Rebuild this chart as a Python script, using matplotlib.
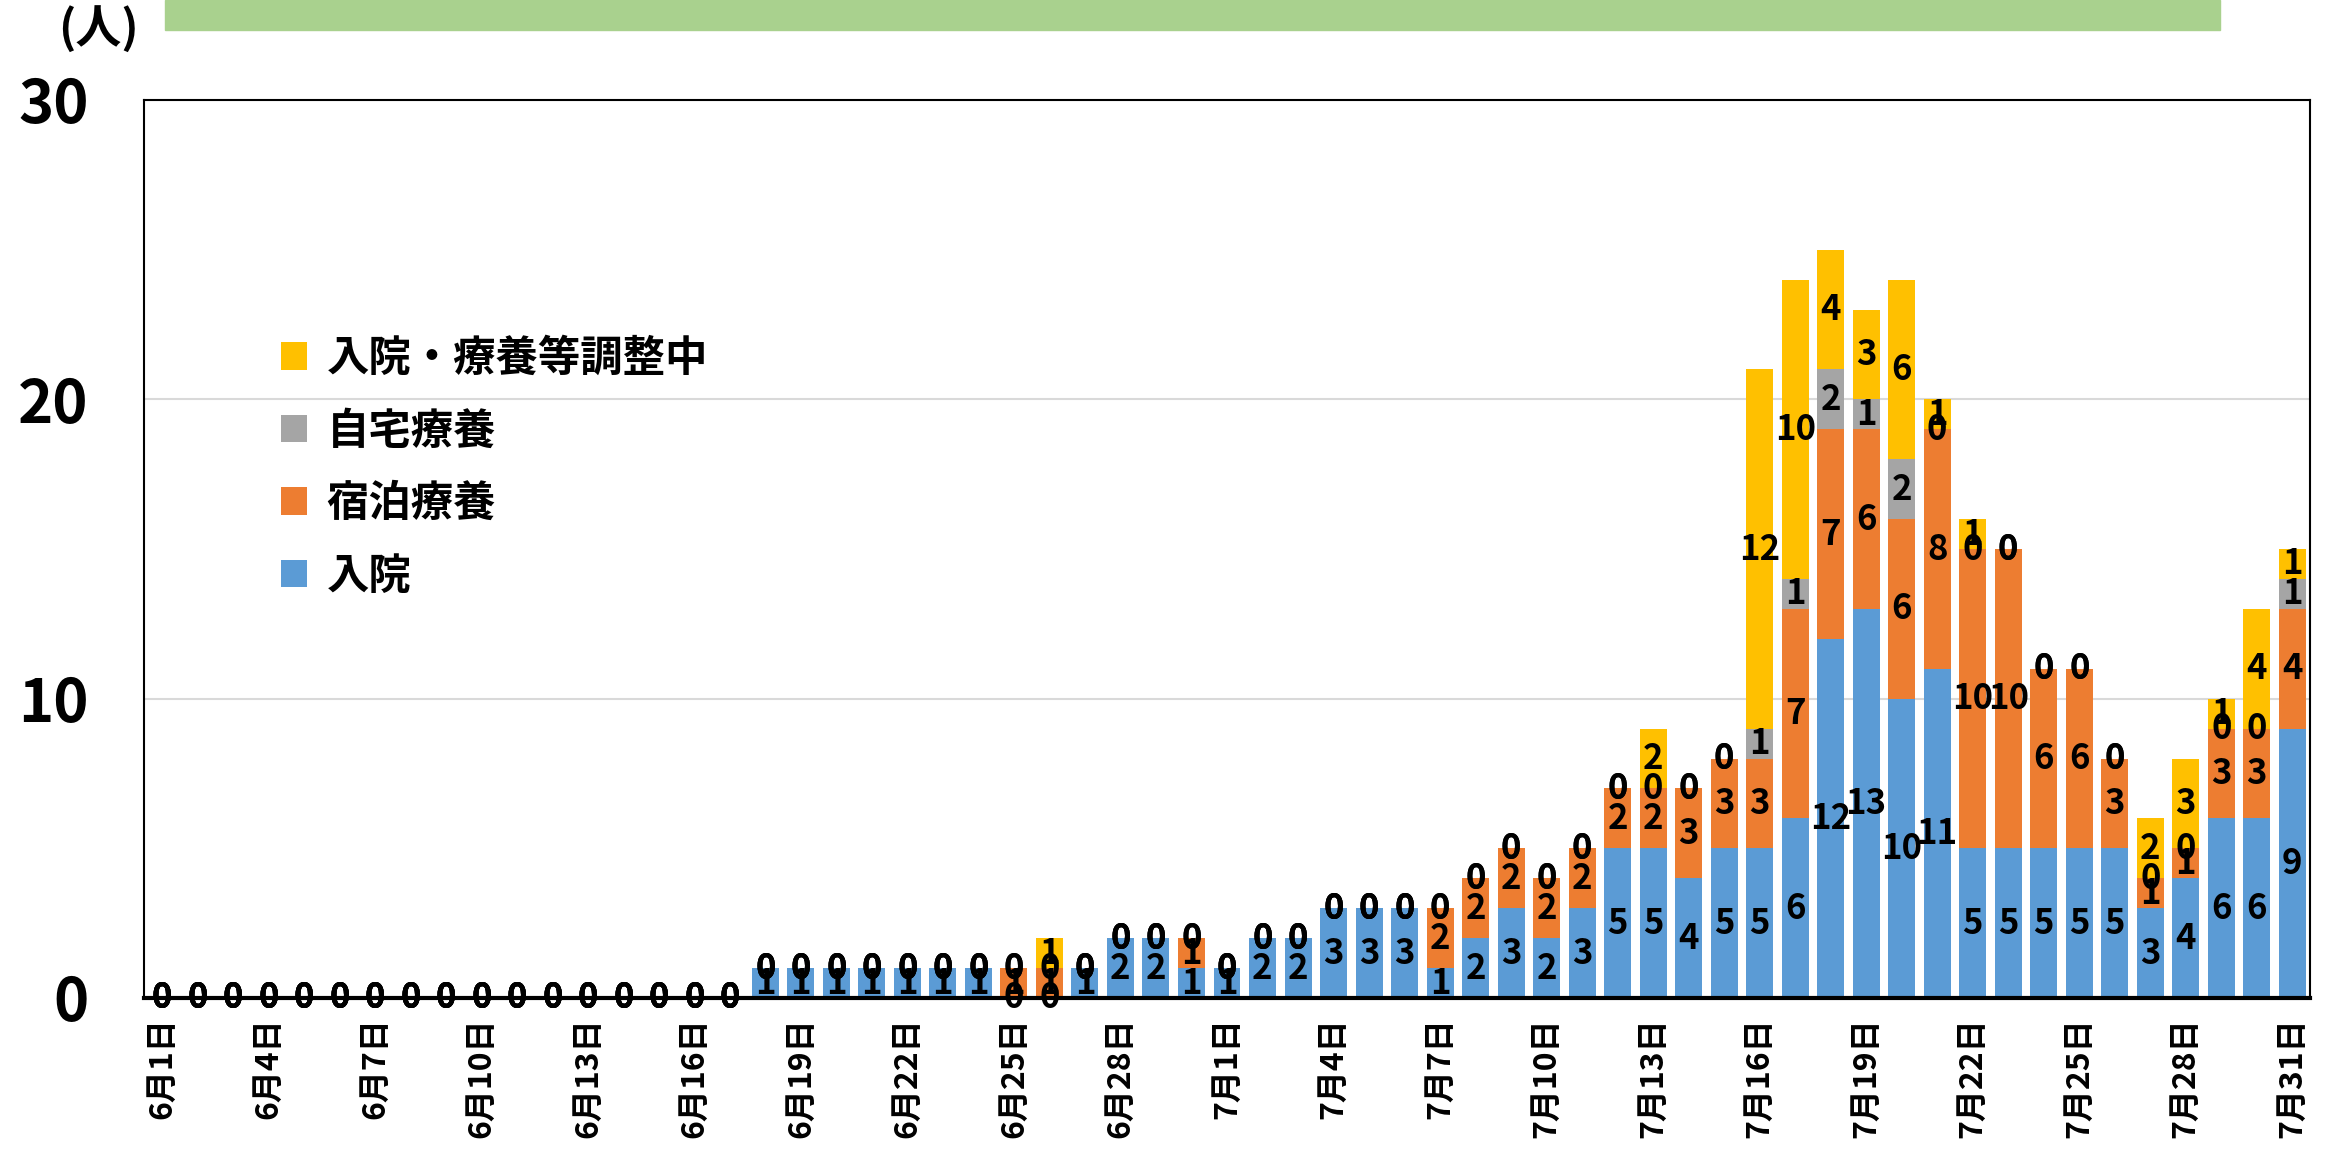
import matplotlib
matplotlib.use("Agg")
import matplotlib.pyplot as plt
from matplotlib.patches import Rectangle

plt.rcParams['font.family'] = ['Noto Sans CJK JP', 'DejaVu Sans']
plt.rcParams['font.weight'] = 'bold'

# 6月1日 .. 7月31日
dates = [f"6月{d}日" for d in range(1, 31)] + [f"7月{d}日" for d in range(1, 32)]

hospital = [0]*17 + [1, 1, 1, 1, 1, 1, 1, 0, 0, 1, 2, 2, 1,
                     1, 2, 2, 3, 3, 3, 1, 2, 3, 2, 3, 5, 5, 4, 5, 5,
                     6, 12, 13, 10, 11, 5, 5, 5, 5, 5, 3, 4, 6, 6, 9]
hotel = [0]*17 + [0, 0, 0, 0, 0, 0, 0, 1, 1, 0, 0, 0, 1,
                  0, 0, 0, 0, 0, 0, 2, 2, 2, 2, 2, 2, 2, 3, 3, 3,
                  7, 7, 6, 6, 8, 10, 10, 6, 6, 3, 1, 1, 3, 3, 4]
home = [0]*17 + [0, 0, 0, 0, 0, 0, 0, 0, 0, 0, 0, 0, 0,
                 0, 0, 0, 0, 0, 0, 0, 0, 0, 0, 0, 0, 0, 0, 0, 1,
                 1, 2, 1, 2, 0, 0, 0, 0, 0, 0, 0, 0, 0, 0, 1]
adjusting = [0]*17 + [0, 0, 0, 0, 0, 0, 0, 0, 1, 0, 0, 0, 0,
                      0, 0, 0, 0, 0, 0, 0, 0, 0, 0, 0, 0, 2, 0, 0, 12,
                      10, 4, 3, 6, 1, 1, 0, 0, 0, 0, 2, 3, 1, 4, 1]

series = [
    ("入院", hospital, "#5B9BD5"),
    ("宿泊療養", hotel, "#ED7D31"),
    ("自宅療養", home, "#A5A5A5"),
    ("入院・療養等調整中", adjusting, "#FFC000"),
]

W, H = 2333, 1152
fig = plt.figure(figsize=(W / 100, H / 100), dpi=100)
ax = fig.add_axes([144 / W, 1 - 998 / H, (2310 - 144) / W, (998 - 100) / H])

x = list(range(len(dates)))
bottom = [0] * len(dates)
handles = []
for name, vals, color in series:
    bars = ax.bar(x, vals, width=0.76, bottom=bottom, color=color, label=name, zorder=2)
    handles.append(bars)
    for i, v in enumerate(vals):
        ax.text(i, bottom[i] + v / 2, str(v), ha='center', va='center',
                fontsize=25, fontweight='bold', color='black', zorder=3, clip_on=False)
    bottom = [b + v for b, v in zip(bottom, vals)]

ax.set_xlim(-0.5, len(dates) - 0.5)
ax.set_ylim(0, 30)
ax.set_yticks([0, 10, 20, 30])
ax.set_yticklabels(["0", "10", "20", "30"], fontsize=43, fontweight='bold')
ax.set_xticks(x[::3])
ax.set_xticklabels(dates[::3], rotation=90, fontsize=23, fontweight='bold', va='top')
ax.tick_params(axis='both', length=0)
ax.tick_params(axis='y', pad=40)
ax.tick_params(axis='x', pad=14)
ax.yaxis.grid(True, color='#D9D9D9', linewidth=1.5, zorder=0)
ax.set_axisbelow(True)
for side in ['top', 'right', 'left']:
    ax.spines[side].set_linewidth(1.5)
    ax.spines[side].set_color('black')
ax.spines['bottom'].set_linewidth(3)

leg = ax.legend(handles=handles[::-1], loc='upper left', bbox_to_anchor=(243 / W, 1 - 300 / H),
                bbox_transform=fig.transFigure, frameon=False,
                handlelength=0.62, handleheight=0.62, handletextpad=0.45, labelspacing=0.72,
                prop={'weight': 'bold', 'size': 30.5})

# green header bar and unit label
fig.patches.append(Rectangle((165 / W, 1 - 30 / H), (2220 - 165) / W, 30 / H,
                             transform=fig.transFigure, color='#A9D18E', zorder=0))
fig.text(58 / W, 1 - 30 / H, "(人)", fontsize=33, fontweight='bold', va='center', ha='left')

fig.savefig("out.png", dpi=100)
